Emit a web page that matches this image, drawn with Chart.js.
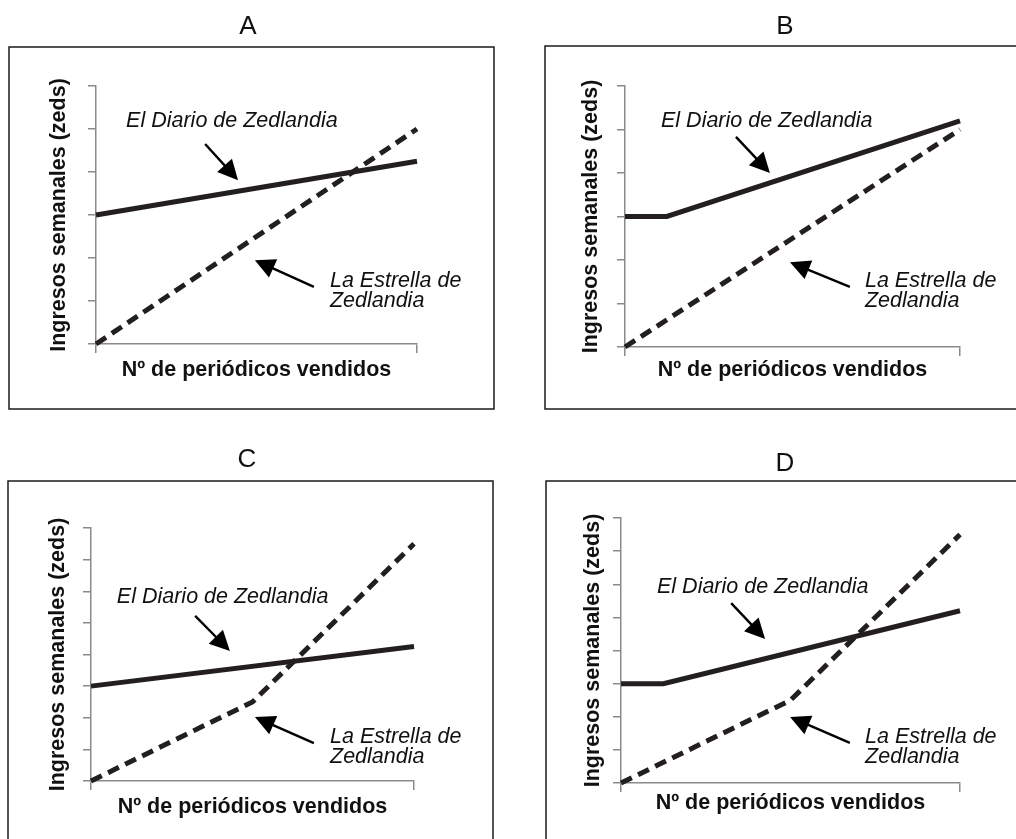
<!DOCTYPE html>
<html lang="es">
<head>
    <meta charset="UTF-8">
    <title>Ingresos semanales - Zedlandia</title>
    <script src="https://cdn.jsdelivr.net/npm/chart.js"></script>
    <style>
        body { margin: 0; background: #fff; }
        #page { position: relative; width: 1016px; height: 839px; overflow: hidden; }
        canvas { position: absolute; }
    </style>
</head>
<body>
    <div id="page">
        <canvas id="chartA" width="508" height="420" style="left:0;top:0"></canvas>
        <canvas id="chartB" width="508" height="420" style="left:508px;top:0"></canvas>
        <canvas id="chartC" width="508" height="419" style="left:0;top:420px"></canvas>
        <canvas id="chartD" width="508" height="419" style="left:508px;top:420px"></canvas>
    </div>

    <script>
        // datos (x = periodicos vendidos 0..8, y = ingresos)
        const diarioA_x = [0, 8];
        const diarioA_y = [3, 4.25];
        const estrellaA_x = [0, 8];
        const estrellaA_y = [0, 5];

        const diarioB_x = [0, 1, 8];
        const diarioB_y = [3, 3, 5.2];
        const estrellaB_x = [0, 8];
        const estrellaB_y = [0, 5];

        const diarioC_x = [0, 8];
        const diarioC_y = [3, 4.25];
        const estrellaC_x = [0, 4, 8];
        const estrellaC_y = [0, 2.5, 7.5];

        const diarioD_x = [0, 1, 8];
        const diarioD_y = [3, 3, 5.2];
        const estrellaD_x = [0, 4, 8];
        const estrellaD_y = [0, 2.5, 7.5];

        const yMaxAB = 6;
        const yMaxCD = 8;
        const xMax = 8;

        const letras = ['A', 'B', 'C', 'D'];
        const nombreDiario = 'El Diario de Zedlandia';
        const nombreEstrella = ['La Estrella de', 'Zedlandia'];
        const tituloY = 'Ingresos semanales (zeds)';
        const tituloX = 'N\u00ba de peri\u00f3dicos vendidos';

        const FONT = "'Liberation Sans', Arial, Helvetica, sans-serif";
        const INK = '#231f20';
        const AXIS = '#8a8a8a';
        const TXT = 21.5;

        function puntos(xs, ys) {
            return xs.map(function (x, i) { return { x: x, y: ys[i] }; });
        }

        // etiquetas y flechas, en unidades de los ejes
        const anotA = { diario: [0.75, 5.05], flechaD: [2.72, 4.65, 3.54, 3.81], estrella: [5.83, 1.33], flechaE: [5.43, 1.33, 3.96, 1.95] };
        const anotB = { diario: [0.86, 5.06], flechaD: [2.65, 4.83, 3.46, 4.0], estrella: [5.73, 1.38], flechaE: [5.37, 1.38, 3.94, 1.95] };
        const anotC = { diario: [0.64, 5.63], flechaD: [2.58, 5.22, 3.44, 4.11], estrella: [5.92, 1.20], flechaE: [5.52, 1.20, 4.06, 2.02] };
        const anotD = { diario: [0.85, 5.74], flechaD: [2.60, 5.43, 3.40, 4.35], estrella: [5.76, 1.21], flechaE: [5.40, 1.21, 3.99, 1.99] };

        // posicion de cada panel en la pagina
        const paneles = [
            { id: 'chartA', letra: letras[0], canvas: [0, 0, 508, 420], area: [96, 86, 417, 344], letraXY: [248, 27], tituloYx: 59, tituloXy: 370, caja: [9, 47, 485, 362],
              diario: puntos(diarioA_x, diarioA_y), estrella: puntos(estrellaA_x, estrellaA_y), yMax: yMaxAB, anot: anotA },
            { id: 'chartB', letra: letras[1], canvas: [508, 0, 508, 420], area: [625, 86, 960, 347], letraXY: [785, 27], tituloYx: 591, tituloXy: 370, caja: [545, 46, 520, 363],
              diario: puntos(diarioB_x, diarioB_y), estrella: puntos(estrellaB_x, estrellaB_y), yMax: yMaxAB, anot: anotB },
            { id: 'chartC', letra: letras[2], canvas: [0, 420, 508, 419], area: [91, 528, 414, 781], letraXY: [247, 460], tituloYx: 58, tituloXy: 807, caja: [8, 481, 485, 420],
              diario: puntos(diarioC_x, diarioC_y), estrella: puntos(estrellaC_x, estrellaC_y), yMax: yMaxCD, anot: anotC },
            { id: 'chartD', letra: letras[3], canvas: [508, 420, 508, 419], area: [621, 518, 960, 783], letraXY: [785, 464], tituloYx: 593, tituloXy: 803, caja: [546, 481, 520, 420],
              diario: puntos(diarioD_x, diarioD_y), estrella: puntos(estrellaD_x, estrellaD_y), yMax: yMaxCD, anot: anotD }
        ];

        function flecha(ctx, x0, y0, x1, y1) {
            var dx = x1 - x0, dy = y1 - y0;
            var len = Math.sqrt(dx * dx + dy * dy);
            var ux = dx / len, uy = dy / len;
            var bx = x1 - ux * 20, by = y1 - uy * 20;
            ctx.strokeStyle = '#000';
            ctx.lineWidth = 2.4;
            ctx.beginPath();
            ctx.moveTo(x0, y0);
            ctx.lineTo(bx + ux * 2, by + uy * 2);
            ctx.stroke();
            ctx.fillStyle = '#000';
            ctx.beginPath();
            ctx.moveTo(x1, y1);
            ctx.lineTo(bx - uy * 10, by + ux * 10);
            ctx.lineTo(bx + uy * 10, by - ux * 10);
            ctx.closePath();
            ctx.fill();
        }

        // marco del panel, letra, etiquetas con flechas
        const extras = {
            id: 'extras',
            beforeDraw: function (chart) {
                var p = chart.options.plugins.extras;
                var ctx = chart.ctx;
                var ox = p.canvas[0], oy = p.canvas[1];
                ctx.save();
                ctx.strokeStyle = '#1a1a1a';
                ctx.lineWidth = 1.5;
                ctx.strokeRect(p.caja[0] - ox, p.caja[1] - oy, p.caja[2], p.caja[3]);
                ctx.font = '26px ' + FONT;
                ctx.fillStyle = '#111';
                ctx.textAlign = 'center';
                ctx.textBaseline = 'middle';
                ctx.fillText(p.letra, p.letraXY[0] - ox, p.letraXY[1] - oy);
                ctx.restore();
            },
            afterDatasetsDraw: function (chart) {
                var p = chart.options.plugins.extras;
                var a = p.anot;
                var sx = chart.scales.x, sy = chart.scales.y;
                var ctx = chart.ctx;
                function px(v) { return sx.getPixelForValue(v); }
                function py(v) { return sy.getPixelForValue(v); }
                ctx.save();
                ctx.font = 'italic ' + TXT + 'px ' + FONT;
                ctx.fillStyle = '#111';
                ctx.textAlign = 'left';
                ctx.textBaseline = 'alphabetic';
                ctx.fillText(nombreDiario, px(a.diario[0]), py(a.diario[1]));
                ctx.fillText(nombreEstrella[0], px(a.estrella[0]), py(a.estrella[1]));
                ctx.fillText(nombreEstrella[1], px(a.estrella[0]), py(a.estrella[1]) + 20);
                flecha(ctx, px(a.flechaD[0]), py(a.flechaD[1]), px(a.flechaD[2]), py(a.flechaD[3]));
                flecha(ctx, px(a.flechaE[0]), py(a.flechaE[1]), px(a.flechaE[2]), py(a.flechaE[3]));
                ctx.restore();
            }
        };

        paneles.forEach(function (p) {
            var ox = p.canvas[0], oy = p.canvas[1], cw = p.canvas[2], ch = p.canvas[3];
            var lhEje = TXT * 1.2;
            var padLeft = p.tituloYx - ox - lhEje / 2;
            var anchoY = (p.area[0] - ox) - padLeft;
            var bajoX = p.tituloXy - oy + lhEje / 2;
            var altoX = bajoX - (p.area[3] - oy);

            var config = {
                type: 'line',
                data: {
                    datasets: [{
                        label: nombreDiario,
                        data: p.diario,
                        borderColor: INK,
                        borderWidth: 5,
                        pointRadius: 0,
                        tension: 0,
                        clip: false
                    }, {
                        label: nombreEstrella.join(' '),
                        data: p.estrella,
                        borderColor: INK,
                        borderWidth: 5,
                        borderDash: [12, 7],
                        pointRadius: 0,
                        tension: 0,
                        clip: false
                    }]
                },
                options: {
                    responsive: false,
                    animation: false,
                    events: [],
                    layout: {
                        padding: { left: padLeft, right: cw - (p.area[2] - ox), top: p.area[1] - oy, bottom: ch - bajoX }
                    },
                    plugins: {
                        legend: { display: false },
                        tooltip: { enabled: false },
                        title: { display: false },
                        extras: p
                    },
                    scales: {
                        x: {
                            type: 'linear',
                            min: 0,
                            max: xMax,
                            ticks: { display: false, stepSize: xMax },
                            grid: { drawOnChartArea: false, drawTicks: true, tickLength: 9, color: AXIS, lineWidth: 1.5 },
                            border: { display: true, color: AXIS, width: 1.5 },
                            title: {
                                display: true,
                                text: tituloX,
                                color: '#111',
                                font: { family: FONT, size: TXT, weight: 'bold', lineHeight: 1.2 },
                                padding: 0
                            },
                            afterFit: function (s) { s.height = altoX; }
                        },
                        y: {
                            min: 0,
                            max: p.yMax,
                            ticks: { display: false, stepSize: 1 },
                            grid: { drawOnChartArea: false, drawTicks: true, tickLength: 8, color: AXIS, lineWidth: 1.5 },
                            border: { display: true, color: AXIS, width: 1.5 },
                            title: {
                                display: true,
                                text: tituloY,
                                color: '#111',
                                font: { family: FONT, size: TXT, weight: 'bold', lineHeight: 1.2 },
                                padding: 0
                            },
                            afterFit: function (s) { s.width = anchoY; }
                        }
                    }
                },
                plugins: [extras]
            };

            new Chart(document.getElementById(p.id), config);
        });
    </script>
</body>
</html>
